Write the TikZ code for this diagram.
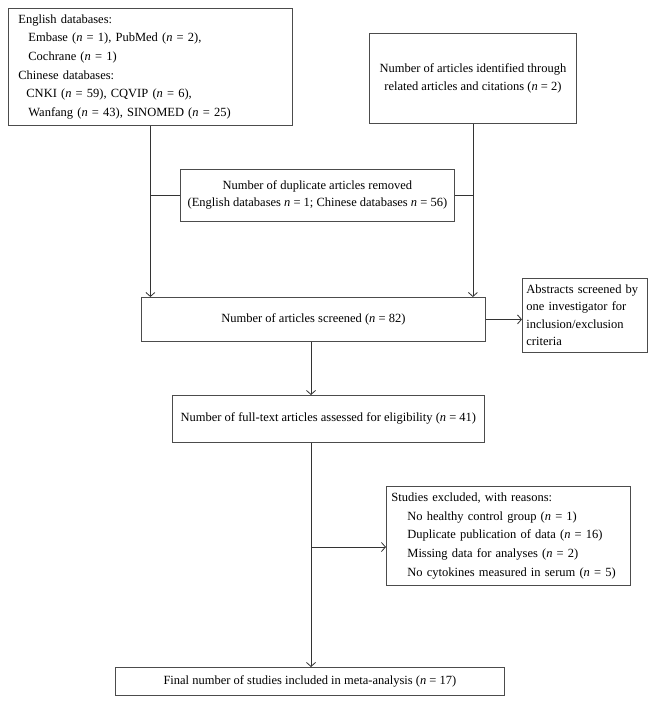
\documentclass[tikz,border=0pt]{standalone}
\usepackage{fontspec}
\setmainfont{Liberation Serif}
\usetikzlibrary{positioning,arrows.meta}
\def\nn{\textit{n}}

\begin{document}
\begin{tikzpicture}[x=1pt,y=-1pt,>={Straight Barb[length=4pt,width=9pt]},line width=0.8pt,
	box/.style={draw=black!70,anchor=north west,inner sep=0pt,font=\fontsize{12.5}{18.6}\selectfont},
	link/.style={draw=black!80}]
\useasboundingbox (0,0) rectangle (655,704);
\node[box,minimum width=284pt,minimum height=117pt,text width=264pt,align=left]	(db)		at (8,8)		{English databases:\\
	\hspace*{10pt}Embase (\nn{} = 1), PubMed (\nn{} = 2),\\
	\hspace*{10pt}Cochrane (\nn{} = 1)\\
	Chinese databases:\\
	\hspace*{8pt}CNKI (\nn{} = 59), CQVIP (\nn{} = 6),\\
	\hspace*{10pt}Wanfang (\nn{} = 43), SINOMED (\nn{} = 25)};
\node[box,minimum width=207pt,minimum height=90pt,align=center]					(rel)		at (369,33)		{Number of articles identified through\\related articles and citations (\nn{} = 2)};
\node[box,minimum width=274pt,minimum height=52pt,align=center,font=\fontsize{12.5}{17}\selectfont]	(dup)	at (180,169)	{Number of duplicate articles removed\\(English databases \nn{} = 1; Chinese databases \nn{} = 56)};
\node[box,minimum width=344pt,minimum height=44pt]									(scr)		at (141,297)	{Number of articles screened (\nn{} = 82)};
\node[box,minimum width=125pt,minimum height=74pt,text width=117pt,align=left,font=\fontsize{12.5}{17.4}\selectfont]	(abs)	at (522,278)	{Abstracts screened by\\one investigator for\\inclusion/exclusion\\criteria};
\node[box,minimum width=312pt,minimum height=47pt]									(elig)		at (172,395)	{Number of full-text articles assessed for eligibility (\nn{} = 41)};
\node[box,minimum width=244pt,minimum height=99pt,text width=234pt,align=left]	(excl)		at (386,486)	{Studies excluded, with reasons:\\
	\hspace*{16pt}No healthy control group (\nn{} = 1)\\
	\hspace*{16pt}Duplicate publication of data (\nn{} = 16)\\
	\hspace*{16pt}Missing data for analyses (\nn{} = 2)\\
	\hspace*{16pt}No cytokines measured in serum (\nn{} = 5)};
\node[box,minimum width=389pt,minimum height=28pt]									(fin)		at (115,667)	{Final number of studies included in meta-analysis (\nn{} = 17)};
\coordinate (trunk) at (311,0);
\coordinate (split) at (trunk |- 0,547);
% connectors
\draw[link,->] (db.south) -- (db.south |- scr.north);
\draw[link,->] (rel.south) -- (rel.south |- scr.north);
\draw[link] (dup.west) -- (dup.west -| db.south);
\draw[link] (dup.east) -- (dup.east -| rel.south);
\draw[link,->] (scr.east) -- (scr.east -| abs.west);
\draw[link,->] (trunk |- scr.south) -- (trunk |- elig.north);
\draw[link,->] (trunk |- elig.south) -- (trunk |- fin.north);
\draw[link,->] (split) -- (split -| excl.west);
\end{tikzpicture}
\end{document}
